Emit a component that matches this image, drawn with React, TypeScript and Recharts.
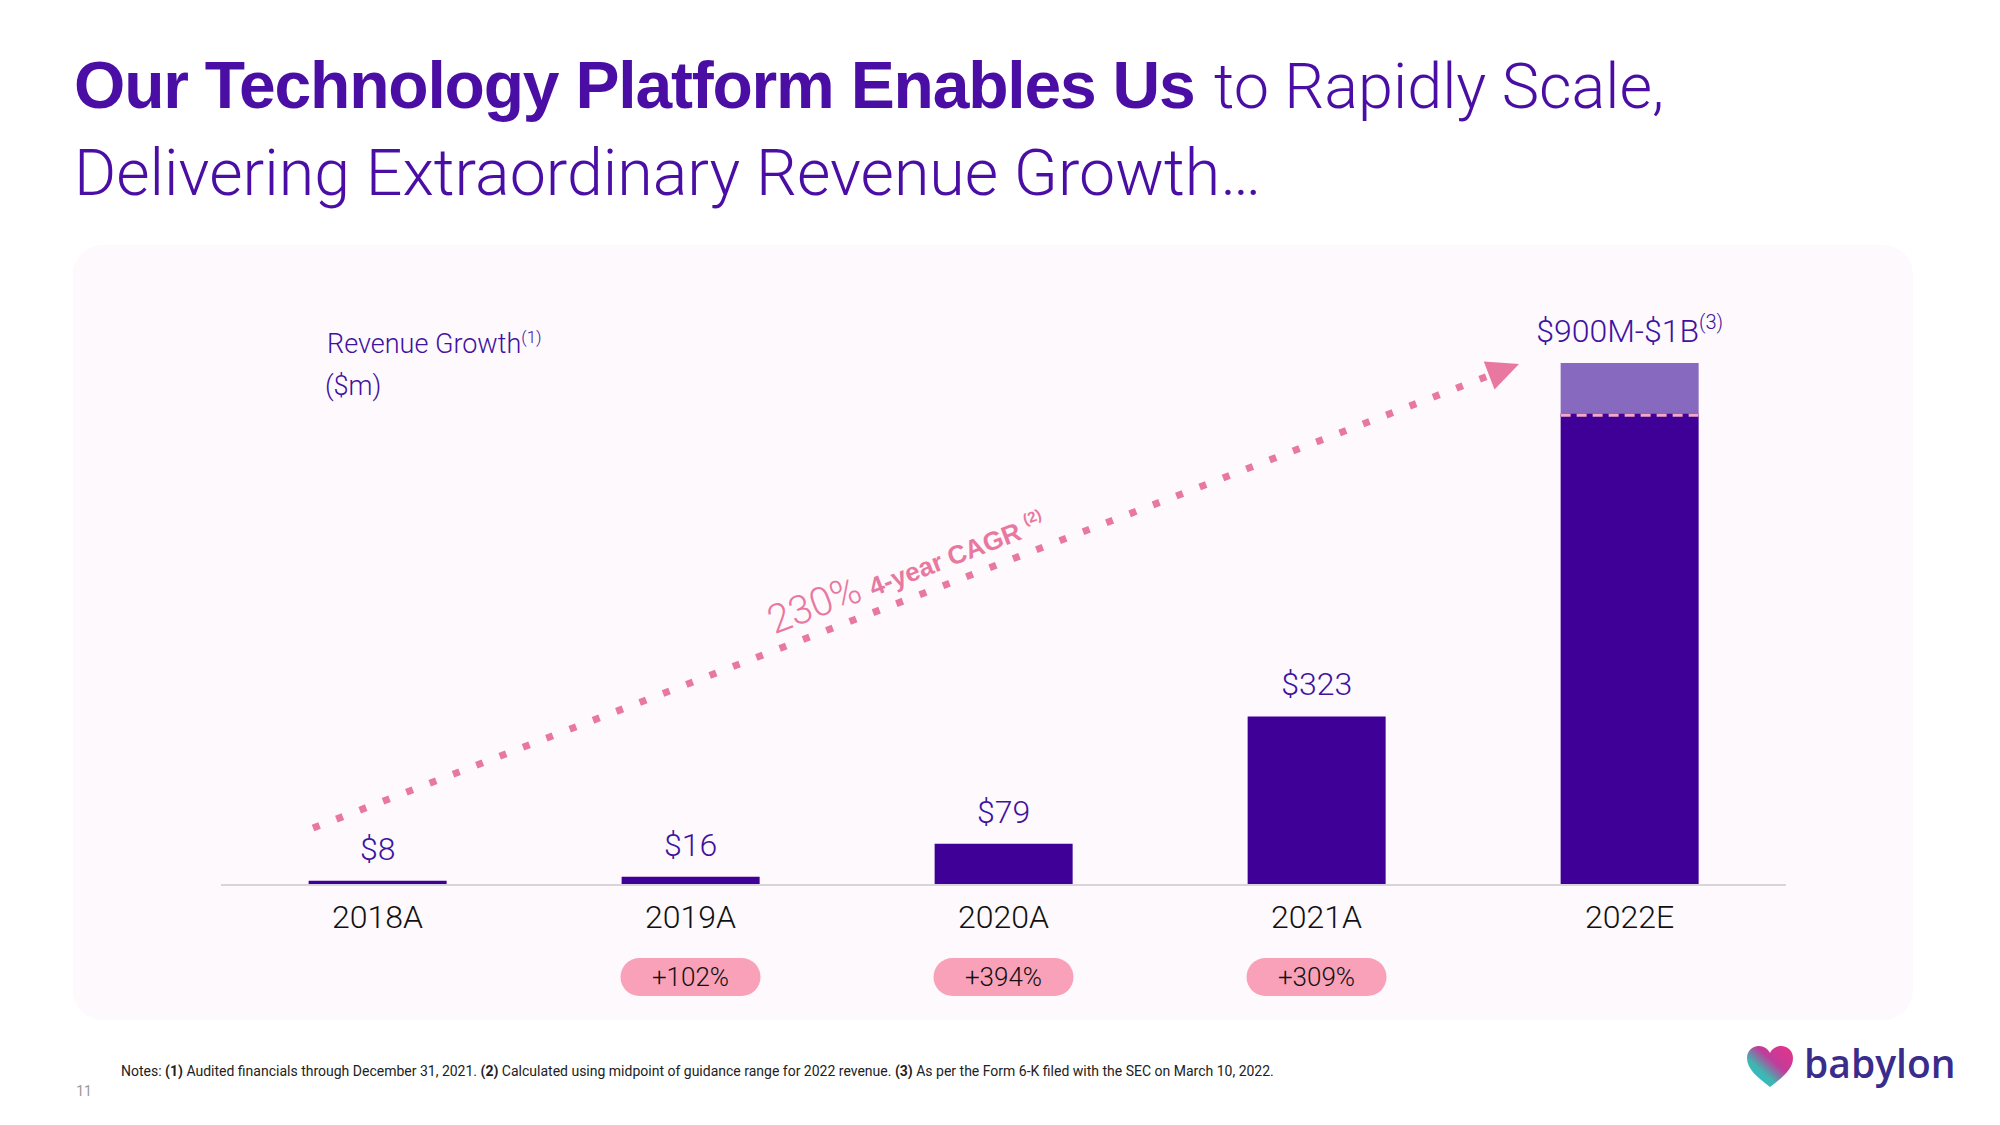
import React from "react";
import {
  Bar,
  BarChart,
  LabelList,
  ReferenceLine,
  XAxis,
  YAxis,
} from "recharts";

const years = ["2018A", "2019A", "2020A", "2021A", "2022E"];
const revenue = [8, 16, 79, 323, 900];
const guidanceRange = [0, 0, 0, 0, 100];
const valueLabels = ["$8", "$16", "$79", "$323", "$900M-$1B"];
const growth = ["", "+102%", "+394%", "+309%", ""];
// CAGR arrow: anchored on a category, shifted by a fraction of a band, at a $m value
const cagrFrom = { year: "2018A", shift: -0.206, value: 109 };
const cagrTo = { year: "2022E", shift: -0.353, value: 998 };

const data = years.map((year, i) => ({
  year,
  actual: revenue[i],
  range: guidanceRange[i],
}));

const LIGHT = "Roboto, 'Liberation Sans', sans-serif";
const BOLD = "'Liberation Sans', Arial, sans-serif";
const PURPLE = "#4b0ea5";
const LABEL = "#3f12a0";
const PINK = "#e8789f";

function YearTick(props: any) {
  const { x, y, payload } = props;
  const i = years.indexOf(payload.value);
  const g = growth[i];
  return (
    <g>
      <text
        x={x}
        y={y + 43}
        textAnchor="middle"
        fontFamily={LIGHT}
        fontWeight={300}
        fontSize={32}
        fill="#111"
      >
        {payload.value}
      </text>
      {g && (
        <g>
          <rect x={x - 70} y={y + 73} width={140} height={38} rx={19} fill="#f9a1b8" />
          <text
            x={x}
            y={y + 101}
            textAnchor="middle"
            fontFamily={LIGHT}
            fontWeight={300}
            fontSize={26}
            fill="#111"
          >
            {g}
          </text>
        </g>
      )}
    </g>
  );
}

function RangeShape(props: any) {
  const { x, y, width, height, fill } = props;
  if (!height || height <= 0) return null;
  const yb = y + height;
  return (
    <g>
      <rect x={x} y={y} width={width} height={height} fill={fill} />
      <line x1={x} x2={x + width} y1={yb} y2={yb} stroke="#3e0097" strokeWidth={3} />
      <line
        x1={x}
        x2={x + width}
        y1={yb}
        y2={yb}
        stroke="#f4a7c7"
        strokeWidth={3}
        strokeDasharray="10 6"
      />
    </g>
  );
}

function ValueLabel(props: any) {
  const vb = props.viewBox ?? props;
  const x = vb.x ?? props.x;
  const y = vb.y ?? props.y;
  const width = vb.width ?? props.width;
  const i = props.index;
  const cx = x + width / 2;
  return (
    <text
      x={cx}
      y={y - 21}
      textAnchor="middle"
      fontFamily={LIGHT}
      fontWeight={300}
      fontSize={32}
      fill={LABEL}
    >
      {valueLabels[i]}
      {i === 4 && (
        <tspan fontSize={20} dy={-13}>
          (3)
        </tspan>
      )}
    </text>
  );
}

function CagrArrow(props: any) {
  const band =
    (props.x2 - props.x1) / (years.indexOf(cagrTo.year) - years.indexOf(cagrFrom.year));
  const x1 = props.x1 + cagrFrom.shift * band;
  const x2 = props.x2 + cagrTo.shift * band;
  const y1 = props.y1;
  const y2 = props.y2;
  const dx = x2 - x1;
  const dy = y2 - y1;
  const len = Math.sqrt(dx * dx + dy * dy);
  const ang = (Math.atan2(dy, dx) * 180) / Math.PI;
  const head = 32;
  return (
    <g transform={`translate(${x1},${y1}) rotate(${ang})`}>
      <line
        x1={0}
        y1={0}
        x2={len - head}
        y2={0}
        stroke={PINK}
        strokeWidth={7}
        strokeDasharray="7 18"
      />
      <polygon
        points={`${len},0 ${len - head},-15 ${len - head},15`}
        fill={PINK}
      />
      <text x={500} y={-15} fill={PINK}>
        <tspan fontFamily={LIGHT} fontWeight={300} fontSize={40}>
          230%
        </tspan>
        <tspan dx={10} fontFamily={BOLD} fontWeight={700} fontSize={26}>
          4-year CAGR
        </tspan>
        <tspan dx={7} dy={-12} fontFamily={BOLD} fontWeight={700} fontSize={15}>
          (2)
        </tspan>
      </text>
    </g>
  );
}

function Heart() {
  return (
    <g transform="translate(1747,1046)">
      <defs>
        <linearGradient id="heartGrad" x1="1" y1="0" x2="0" y2="1">
          <stop offset="0%" stopColor="#e8338a" />
          <stop offset="40%" stopColor="#c13c9a" />
          <stop offset="65%" stopColor="#3fb6b0" />
          <stop offset="100%" stopColor="#1fc3e0" />
        </linearGradient>
      </defs>
      <path
        d="M23 41 C 10 31, 0 23, 0 12 C 0 5, 5 0, 12 0 C 17 0, 21 3, 23 7 C 25 3, 29 0, 34 0 C 41 0, 46 5, 46 12 C 46 23, 36 31, 23 41 Z"
        fill="url(#heartGrad)"
      />
    </g>
  );
}

export default function App() {
  return (
    <div
      style={{
        position: "absolute",
        left: 0,
        top: 0,
        width: 2000,
        height: 1125,
        background: "#ffffff",
        overflow: "hidden",
      }}
    >
      <svg width={2000} height={1125} style={{ position: "absolute", left: 0, top: 0 }}>
        <rect x={73} y={245} width={1840} height={775} rx={30} fill="#fdf9fc" />
        <text
          x={74}
          y={108}
          fontFamily={BOLD}
          fontWeight={700}
          fontSize={66}
          letterSpacing={-1.2}
          fill={PURPLE}
        >
          Our Technology Platform Enables Us
        </text>
        <text x={1214} y={108} fontFamily={LIGHT} fontWeight={300} fontSize={63} fill={PURPLE}>
          to Rapidly Scale,
        </text>
        <text x={74} y={195} fontFamily={LIGHT} fontWeight={300} fontSize={64.5} fill={PURPLE}>
          Delivering Extraordinary Revenue Growth…
        </text>
        <text x={327} y={353} fontFamily={LIGHT} fontWeight={300} fontSize={27} fill={LABEL}>
          Revenue Growth
          <tspan fontSize={17} dy={-10}>
            (1)
          </tspan>
        </text>
        <text x={325} y={395} fontFamily={LIGHT} fontWeight={300} fontSize={27} fill={LABEL}>
          ($m)
        </text>
        <text x={121} y={1076} fontFamily={LIGHT} fontSize={14} fill="#222">
          Notes: <tspan fontWeight={700}>(1)</tspan> Audited financials through December 31, 2021.{" "}
          <tspan fontWeight={700}>(2)</tspan> Calculated using midpoint of guidance range for 2022
          revenue.{"  "}
          <tspan fontWeight={700}>(3)</tspan> As per the Form 6-K filed with the SEC on March 10,
          2022.
        </text>
        <text x={84} y={1096} textAnchor="middle" fontFamily={LIGHT} fontSize={14} fill="#999">
          11
        </text>
        <Heart />
        <text
          x={1804}
          y={1078}
          fontFamily="'Open Sans', sans-serif"
          fontWeight={600}
          fontSize={39}
          fill="#3a2c8c"
        >
          babylon
        </text>
      </svg>
      <div style={{ position: "absolute", left: 0, top: 0 }}>
        <BarChart
          width={2000}
          height={1125}
          data={data}
          margin={{ top: 363, right: 214, bottom: 180, left: 221 }}
          barCategoryGap="28%"
        >
          <XAxis
            dataKey="year"
            height={60}
            interval={0}
            tickLine={false}
            tickSize={0}
            tickMargin={0}
            axisLine={{ stroke: "#dad5db", strokeWidth: 2 }}
            tick={<YearTick />}
          />
          <YAxis domain={[0, 1000]} hide />
          <Bar dataKey="actual" stackId="rev" fill="#3e0097" isAnimationActive={false} />
          <Bar
            dataKey="range"
            stackId="rev"
            fill="#8769bf"
            shape={RangeShape}
            isAnimationActive={false}
          >
            <LabelList dataKey="range" content={ValueLabel} />
          </Bar>
          <ReferenceLine
            segment={[
              { x: cagrFrom.year, y: cagrFrom.value },
              { x: cagrTo.year, y: cagrTo.value },
            ]}
            ifOverflow="visible"
            shape={CagrArrow}
          />
        </BarChart>
      </div>
    </div>
  );
}
